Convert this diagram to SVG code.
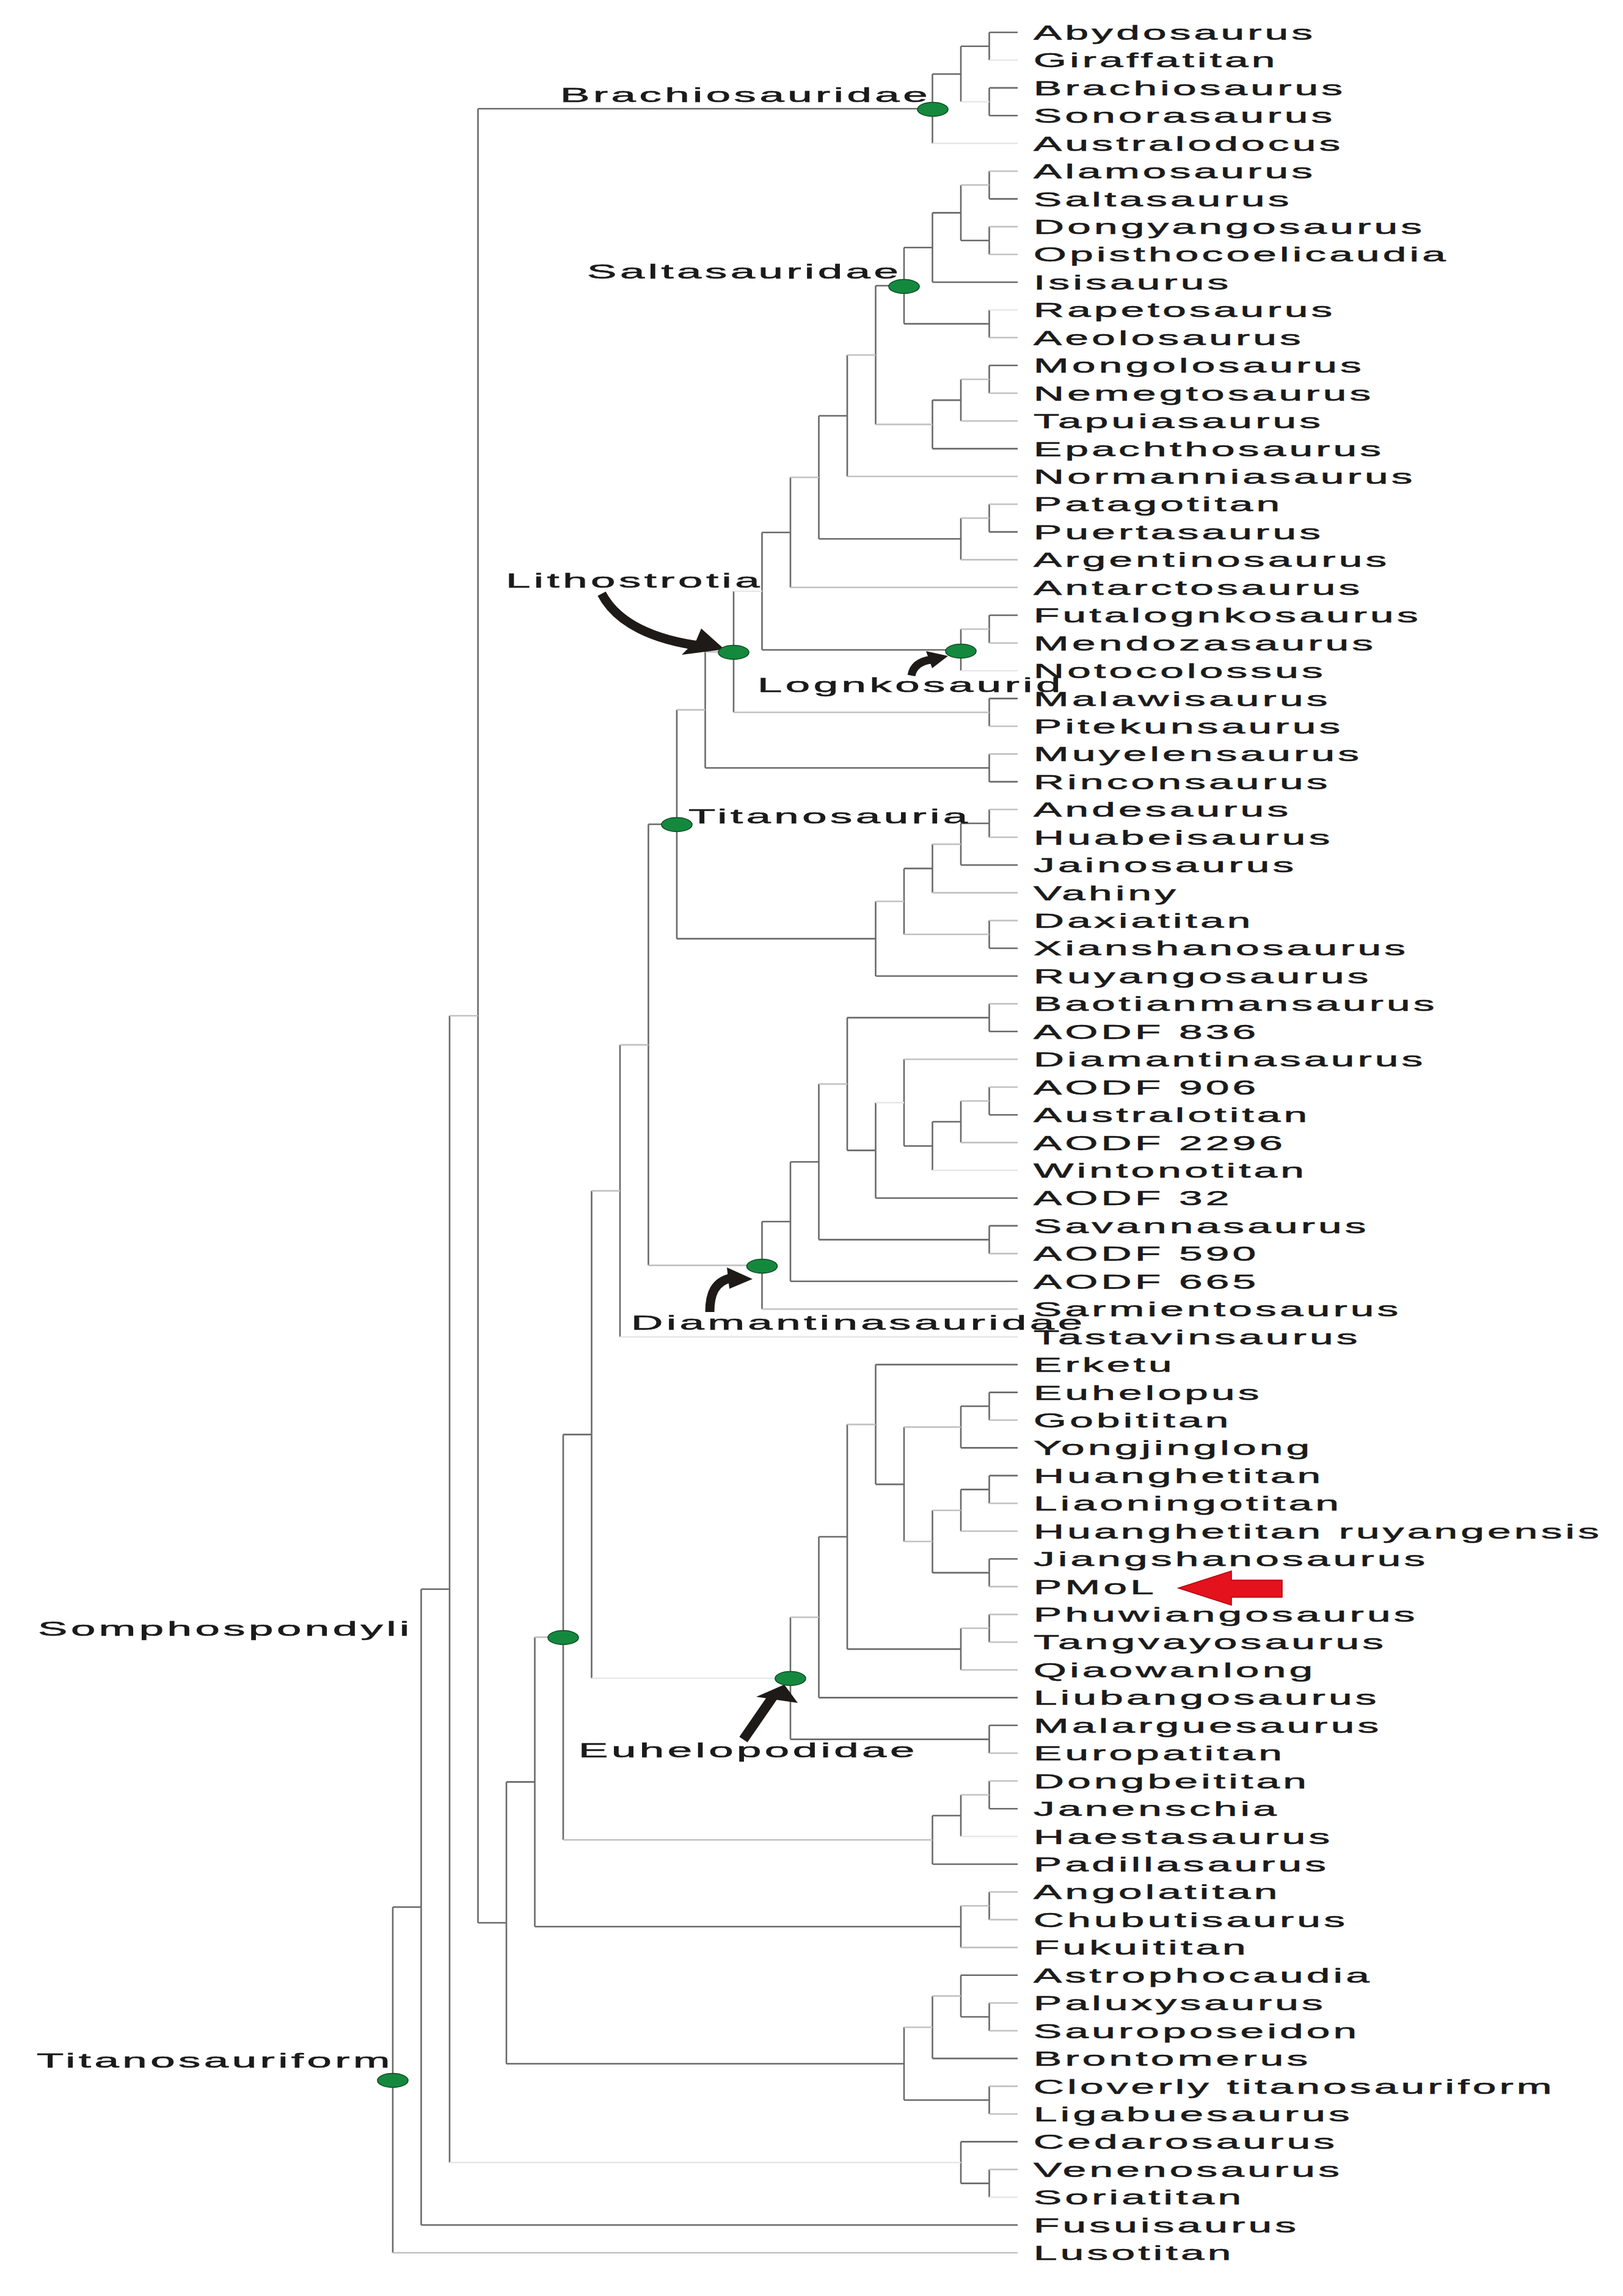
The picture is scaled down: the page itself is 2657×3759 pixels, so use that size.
<svg xmlns="http://www.w3.org/2000/svg" width="2657" height="3759" viewBox="0 0 2657 3759">
<style>
.d{fill:none;stroke:#6a6a6a;stroke-width:2.6}
.l{fill:none;stroke:#c2c2c2;stroke-width:2.6}
.f{fill:none;stroke:#e6e6e6;stroke-width:2.4}
.t{font-family:"Liberation Sans",Arial,sans-serif;font-size:33px;letter-spacing:2.5px;fill:#1b1b1b;stroke:#1b1b1b;stroke-width:0.6}
.c{font-family:"Liberation Sans",Arial,sans-serif;font-size:33px;letter-spacing:2.5px;fill:#1b1b1b;stroke:#1b1b1b;stroke-width:0.6}
.dot{fill:#14893e;stroke:#0c4a22;stroke-width:1.6}
.arr{fill:none;stroke:#1e1a18;stroke-width:15}
.ah{fill:#1e1a18}
</style>
<rect width="2657" height="3759" fill="#fff"/>
<g id="connectors">
<path class="d" d="M1619.5,53V98.4M1619.5,143.9V189.3M1573,75.7V166.6M1526.5,121.2V234.8M1619.5,280.2V325.6M1619.5,371.1V416.5M1573,302.9V393.8M1526.5,348.4V462M1619.5,507.4V552.8M1480,405.2V530.1M1619.5,598.3V643.7M1573,621V689.2M1526.5,655.1V734.6M1433.5,467.7V694.9M1387,581.3V780M1619.5,825.5V870.9M1573,848.2V916.4M1340.5,680.7V882.3M1294,781.5V961.8M1619.5,1007.2V1052.7M1573,1030V1098.1M1247.5,871.7V1064M1619.5,1143.6V1189M1201,967.9V1166.3M1619.5,1234.4V1279.9M1154.5,1067.1V1257.2M1619.5,1325.3V1370.8M1573,1348V1416.2M1526.5,1382.1V1461.6M1619.5,1507.1V1552.5M1480,1421.9V1529.8M1433.5,1475.8V1598M1108,1162.1V1536.9M1619.5,1643.4V1688.8M1619.5,1779.7V1825.2M1573,1802.5V1870.6M1526.5,1836.5V1916M1480,1734.3V1876.3M1433.5,1805.3V1961.5M1387,1666.1V1883.4M1619.5,2006.9V2052.4M1340.5,1774.7V2029.6M1294,1902.2V2097.8M1247.5,2000V2143.2M1061.5,1349.5V2071.6M1015,1710.6V2188.7M1619.5,2279.6V2325M1573,2302.3V2370.4M1619.5,2415.9V2461.3M1573,2438.6V2506.8M1619.5,2552.2V2597.6M1526.5,2472.7V2574.9M1480,2336.4V2523.8M1433.5,2234.1V2430.1M1619.5,2643.1V2688.5M1573,2665.8V2734M1387,2332.1V2699.9M1340.5,2516V2779.4M1619.5,2824.8V2870.3M1294,2647.7V2847.6M968.5,1949.6V2747.6M1619.5,2915.7V2961.2M1573,2938.5V3006.6M1526.5,2972.5V3052M922,2348.6V3012.3M1619.5,3097.5V3142.9M1573,3120.2V3188.4M875.5,2680.4V3154.3M1619.5,3279.2V3324.7M1573,3233.8V3302M1526.5,3267.9V3370.1M1619.5,3415.6V3461M1480,3319V3438.3M829,2917.4V3378.7M782.5,178V3148M1619.5,3551.9V3597.3M1573,3506.4V3574.6M736,1663V3540.5M689.5,2601.8V3642.8M643,3122.3V3688.2"/>
<path class="d" d="M1619.5,53H1666M1619.5,143.9H1666M1619.5,189.3H1666M1619.5,325.6H1666M1526.5,462H1666M1619.5,598.3H1666M1526.5,734.6H1666M1619.5,870.9H1666M1619.5,1007.2H1666M1619.5,1143.6H1666M1619.5,1279.9H1666M1573,1416.2H1666M1619.5,1552.5H1666M1433.5,1598H1666M1619.5,1688.8H1666M1619.5,1825.2H1666M1433.5,1961.5H1666M1619.5,2006.9H1666M1294,2097.8H1666M1433.5,2234.1H1666M1619.5,2279.6H1666M1573,2370.4H1666M1619.5,2415.9H1666M1619.5,2552.2H1666M1340.5,2779.4H1666M1619.5,2824.8H1666M1619.5,2961.2H1666M1526.5,3052H1666M1573,3233.8H1666M1526.5,3370.1H1666M1573,3506.4H1666M689.5,3642.8H1666"/>
<path class="d" d="M1573,75.7H1619.5M1526.5,121.2H1573M782.5,178H1526.5M1573,393.8H1619.5M1526.5,348.4H1573M1480,405.2H1526.5M1480,530.1H1619.5M1433.5,467.7H1480M1526.5,655.1H1573M1340.5,680.7H1387M1340.5,882.3H1573M1247.5,871.7H1294M1247.5,1064H1573M1154.5,1257.2H1619.5M1573,1348H1619.5M1480,1421.9H1526.5M1108,1536.9H1433.5M1061.5,1349.5H1108M1387,1666.1H1619.5M1526.5,1836.5H1573M1480,1876.3H1526.5M1387,1883.4H1433.5M1340.5,2029.6H1619.5M1294,1902.2H1340.5M1247.5,2000H1294M1573,2302.3H1619.5M1573,2438.6H1619.5M1526.5,2574.9H1619.5M1433.5,2430.1H1480M1387,2699.9H1573M1340.5,2516H1387M1294,2847.6H1619.5M922,2348.6H968.5M1526.5,2972.5H1573M875.5,3154.3H1573M829,2917.4H875.5M1573,3302H1619.5M1480,3438.3H1619.5M829,3378.7H1480M782.5,3148H829M1573,3574.6H1619.5M643,3122.3H689.5M689.5,2601.8H736"/>
<path class="l" d="M1619.5,280.2H1666M1619.5,371.1H1666M1619.5,416.5H1666M1619.5,552.8H1666M1619.5,643.7H1666M1573,689.2H1666M1387,780H1666M1619.5,825.5H1666M1573,916.4H1666M1294,961.8H1666M1619.5,1052.7H1666M1619.5,1189H1666M1619.5,1234.4H1666M1619.5,1325.3H1666M1619.5,1370.8H1666M1526.5,1461.6H1666M1619.5,1507.1H1666M1619.5,1643.4H1666M1480,1734.3H1666M1619.5,1779.7H1666M1573,1870.6H1666M1619.5,2052.4H1666M1247.5,2143.2H1666M1619.5,2325H1666M1619.5,2461.3H1666M1573,2506.8H1666M1619.5,2597.6H1666M1619.5,2643.1H1666M1619.5,2688.5H1666M1573,2734H1666M1619.5,2870.3H1666M1619.5,2915.7H1666M1619.5,3097.5H1666M1619.5,3142.9H1666M1573,3188.4H1666M1619.5,3279.2H1666M1619.5,3324.7H1666M1619.5,3415.6H1666M1619.5,3461H1666M1619.5,3551.9H1666M643,3688.2H1666"/>
<path class="l" d="M1573,302.9H1619.5M1573,621H1619.5M1433.5,694.9H1526.5M1387,581.3H1433.5M1573,848.2H1619.5M1294,781.5H1340.5M1573,1030H1619.5M1201,1166.3H1619.5M1154.5,1067.1H1201M1108,1162.1H1154.5M1526.5,1382.1H1573M1480,1529.8H1619.5M1433.5,1475.8H1480M1573,1802.5H1619.5M1340.5,1774.7H1387M1061.5,2071.6H1247.5M1015,1710.6H1061.5M968.5,1949.6H1015M1480,2336.4H1573M1526.5,2472.7H1573M1480,2523.8H1526.5M1387,2332.1H1433.5M1573,2665.8H1619.5M1294,2647.7H1340.5M1573,2938.5H1619.5M922,3012.3H1526.5M875.5,2680.4H922M1573,3120.2H1619.5M1526.5,3267.9H1573M1480,3319H1526.5M736,1663H782.5"/>
<path class="f" d="M1619.5,98.4H1666M1526.5,234.8H1666M1619.5,507.4H1666M1573,1098.1H1666M1526.5,1916H1666M1015,2188.7H1666M1573,3006.6H1666M1619.5,3597.3H1666M1573,166.6H1619.5M1201,967.9H1247.5M1433.5,1805.3H1480M968.5,2747.6H1294M736,3540.5H1573"/>
</g>
<g id="arrows">
<path class="arr" d="M985,972C1010,1020 1070,1048 1150,1058"/>
<polygon class="ah" points="1186,1063 1148,1029 1140,1048 1116,1072"/>
<path class="arr" d="M1492,1106Q1496,1084 1524,1080" style="stroke-width:13"/>
<polygon class="ah" points="1552,1074 1516,1066 1526,1094"/>
<path class="arr" d="M1162,2148C1162,2118 1170,2098 1198,2092"/>
<polygon class="ah" points="1232,2094 1190,2075 1194,2110"/>
<path class="arr" d="M1217,2848L1268,2774" style="stroke-width:16"/>
<polygon class="ah" points="1284,2758 1238,2778 1306,2788"/>
<polygon points="1929,2600 2016,2572 2016,2587 2099,2587 2099,2615 2016,2615 2016,2628" fill="#e3121d" stroke="#b3000c" stroke-width="1.5"/>
</g>
<g id="c-brachiosauridae"><ellipse class="dot" cx="1527" cy="179" rx="25" ry="11.5"/><text class="c" transform="translate(917 167) scale(2.2 1)">Brachiosauridae</text></g>
<g id="c-saltasauridae"><ellipse class="dot" cx="1480" cy="469" rx="25" ry="11.5"/><text class="c" transform="translate(961 456) scale(2.2 1)">Saltasauridae</text></g>
<g id="c-lithostrotia"><ellipse class="dot" cx="1201" cy="1068" rx="25" ry="11.5"/><text class="c" transform="translate(828 962) scale(2.2 1)">Lithostrotia</text></g>
<g id="c-lognkosaurid"><ellipse class="dot" cx="1573" cy="1066" rx="25" ry="11.5"/><text class="c" transform="translate(1240 1133) scale(2.2 1)">Lognkosaurid</text></g>
<g id="c-titanosauria"><ellipse class="dot" cx="1108" cy="1350" rx="25" ry="11.5"/><text class="c" transform="translate(1127 1348) scale(2.2 1)">Titanosauria</text></g>
<g id="c-diamantinasauridae"><ellipse class="dot" cx="1247.5" cy="2073" rx="25" ry="11.5"/><text class="c" transform="translate(1033 2177) scale(2.2 1)">Diamantinasauridae</text></g>
<g id="c-euhelopodidae"><ellipse class="dot" cx="1294" cy="2748" rx="25" ry="11.5"/><text class="c" transform="translate(947 2877) scale(2.2 1)">Euhelopodidae</text></g>
<g id="c-somphospondyli"><ellipse class="dot" cx="922" cy="2681" rx="25" ry="11.5"/><text class="c" transform="translate(62 2678) scale(2.2 1)">Somphospondyli</text></g>
<g id="c-titanosauriform"><ellipse class="dot" cx="643" cy="3406" rx="25" ry="11.5"/><text class="c" transform="translate(60 3385) scale(2.2 1)">Titanosauriform</text></g>
<g id="taxa" class="t" transform="translate(1692 0) scale(2.1 1)">
<g id="n-abydosaurus"><text y="65">Abydosaurus</text></g>
<g id="n-giraffatitan"><text y="110.4">Giraffatitan</text></g>
<g id="n-brachiosaurus"><text y="155.9">Brachiosaurus</text></g>
<g id="n-sonorasaurus"><text y="201.3">Sonorasaurus</text></g>
<g id="n-australodocus"><text y="246.8">Australodocus</text></g>
<g id="n-alamosaurus"><text y="292.2">Alamosaurus</text></g>
<g id="n-saltasaurus"><text y="337.6">Saltasaurus</text></g>
<g id="n-dongyangosaurus"><text y="383.1">Dongyangosaurus</text></g>
<g id="n-opisthocoelicaudia"><text y="428.5">Opisthocoelicaudia</text></g>
<g id="n-isisaurus"><text y="474">Isisaurus</text></g>
<g id="n-rapetosaurus"><text y="519.4">Rapetosaurus</text></g>
<g id="n-aeolosaurus"><text y="564.8">Aeolosaurus</text></g>
<g id="n-mongolosaurus"><text y="610.3">Mongolosaurus</text></g>
<g id="n-nemegtosaurus"><text y="655.7">Nemegtosaurus</text></g>
<g id="n-tapuiasaurus"><text y="701.2">Tapuiasaurus</text></g>
<g id="n-epachthosaurus"><text y="746.6">Epachthosaurus</text></g>
<g id="n-normanniasaurus"><text y="792">Normanniasaurus</text></g>
<g id="n-patagotitan"><text y="837.5">Patagotitan</text></g>
<g id="n-puertasaurus"><text y="882.9">Puertasaurus</text></g>
<g id="n-argentinosaurus"><text y="928.4">Argentinosaurus</text></g>
<g id="n-antarctosaurus"><text y="973.8">Antarctosaurus</text></g>
<g id="n-futalognkosaurus"><text y="1019.2">Futalognkosaurus</text></g>
<g id="n-mendozasaurus"><text y="1064.7">Mendozasaurus</text></g>
<g id="n-notocolossus"><text y="1110.1">Notocolossus</text></g>
<g id="n-malawisaurus"><text y="1155.6">Malawisaurus</text></g>
<g id="n-pitekunsaurus"><text y="1201">Pitekunsaurus</text></g>
<g id="n-muyelensaurus"><text y="1246.4">Muyelensaurus</text></g>
<g id="n-rinconsaurus"><text y="1291.9">Rinconsaurus</text></g>
<g id="n-andesaurus"><text y="1337.3">Andesaurus</text></g>
<g id="n-huabeisaurus"><text y="1382.8">Huabeisaurus</text></g>
<g id="n-jainosaurus"><text y="1428.2">Jainosaurus</text></g>
<g id="n-vahiny"><text y="1473.6">Vahiny</text></g>
<g id="n-daxiatitan"><text y="1519.1">Daxiatitan</text></g>
<g id="n-xianshanosaurus"><text y="1564.5">Xianshanosaurus</text></g>
<g id="n-ruyangosaurus"><text y="1610">Ruyangosaurus</text></g>
<g id="n-baotianmansaurus"><text y="1655.4">Baotianmansaurus</text></g>
<g id="n-aodf836"><text y="1700.8">AODF 836</text></g>
<g id="n-diamantinasaurus"><text y="1746.3">Diamantinasaurus</text></g>
<g id="n-aodf906"><text y="1791.7">AODF 906</text></g>
<g id="n-australotitan"><text y="1837.2">Australotitan</text></g>
<g id="n-aodf2296"><text y="1882.6">AODF 2296</text></g>
<g id="n-wintonotitan"><text y="1928">Wintonotitan</text></g>
<g id="n-aodf32"><text y="1973.5">AODF 32</text></g>
<g id="n-savannasaurus"><text y="2018.9">Savannasaurus</text></g>
<g id="n-aodf590"><text y="2064.4">AODF 590</text></g>
<g id="n-aodf665"><text y="2109.8">AODF 665</text></g>
<g id="n-sarmientosaurus"><text y="2155.2">Sarmientosaurus</text></g>
<g id="n-tastavinsaurus"><text y="2200.7">Tastavinsaurus</text></g>
<g id="n-erketu"><text y="2246.1">Erketu</text></g>
<g id="n-euhelopus"><text y="2291.6">Euhelopus</text></g>
<g id="n-gobititan"><text y="2337">Gobititan</text></g>
<g id="n-yongjinglong"><text y="2382.4">Yongjinglong</text></g>
<g id="n-huanghetitan"><text y="2427.9">Huanghetitan</text></g>
<g id="n-liaoningotitan"><text y="2473.3">Liaoningotitan</text></g>
<g id="n-huanghetitan-ruyangensis"><text y="2518.8">Huanghetitan ruyangensis</text></g>
<g id="n-jiangshanosaurus"><text y="2564.2">Jiangshanosaurus</text></g>
<g id="n-pmol"><text y="2609.6">PMoL</text></g>
<g id="n-phuwiangosaurus"><text y="2655.1">Phuwiangosaurus</text></g>
<g id="n-tangvayosaurus"><text y="2700.5">Tangvayosaurus</text></g>
<g id="n-qiaowanlong"><text y="2746">Qiaowanlong</text></g>
<g id="n-liubangosaurus"><text y="2791.4">Liubangosaurus</text></g>
<g id="n-malarguesaurus"><text y="2836.8">Malarguesaurus</text></g>
<g id="n-europatitan"><text y="2882.3">Europatitan</text></g>
<g id="n-dongbeititan"><text y="2927.7">Dongbeititan</text></g>
<g id="n-janenschia"><text y="2973.2">Janenschia</text></g>
<g id="n-haestasaurus"><text y="3018.6">Haestasaurus</text></g>
<g id="n-padillasaurus"><text y="3064">Padillasaurus</text></g>
<g id="n-angolatitan"><text y="3109.5">Angolatitan</text></g>
<g id="n-chubutisaurus"><text y="3154.9">Chubutisaurus</text></g>
<g id="n-fukuititan"><text y="3200.4">Fukuititan</text></g>
<g id="n-astrophocaudia"><text y="3245.8">Astrophocaudia</text></g>
<g id="n-paluxysaurus"><text y="3291.2">Paluxysaurus</text></g>
<g id="n-sauroposeidon"><text y="3336.7">Sauroposeidon</text></g>
<g id="n-brontomerus"><text y="3382.1">Brontomerus</text></g>
<g id="n-cloverly"><text y="3427.6">Cloverly titanosauriform</text></g>
<g id="n-ligabuesaurus"><text y="3473">Ligabuesaurus</text></g>
<g id="n-cedarosaurus"><text y="3518.4">Cedarosaurus</text></g>
<g id="n-venenosaurus"><text y="3563.9">Venenosaurus</text></g>
<g id="n-soriatitan"><text y="3609.3">Soriatitan</text></g>
<g id="n-fusuisaurus"><text y="3654.8">Fusuisaurus</text></g>
<g id="n-lusotitan"><text y="3700.2">Lusotitan</text></g>
</g>
</svg>
